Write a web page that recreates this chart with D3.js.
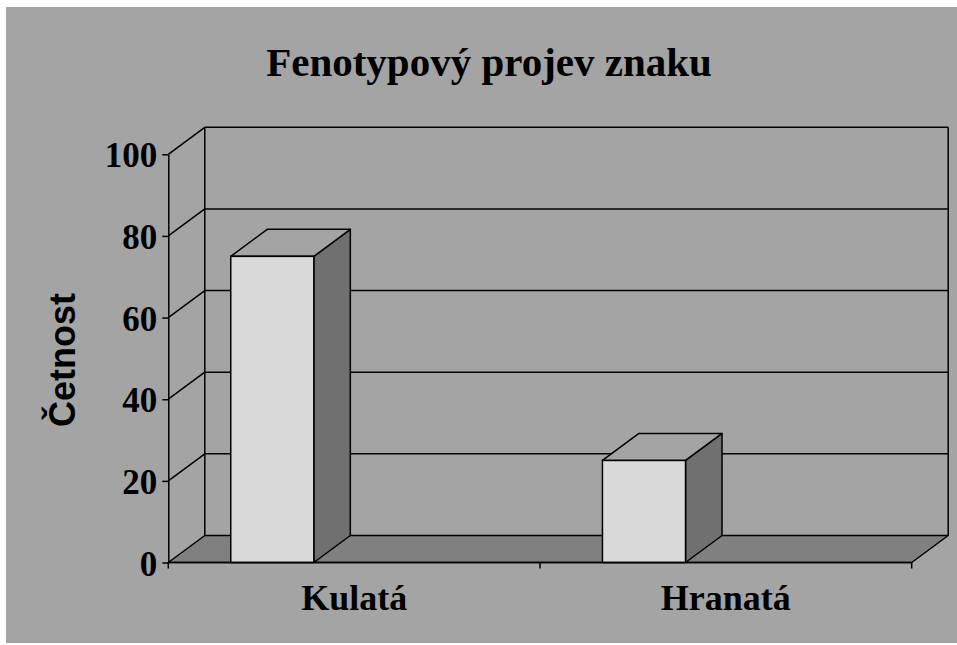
<!DOCTYPE html>
<html>
<head>
<meta charset="utf-8">
<script src="https://cdn.jsdelivr.net/npm/d3@7"></script>
<style>
  body { margin: 0; background: #ffffff; }
  svg { display: block; }
</style>
</head>
<body>
<div id="svg"></div>
<script>
var width = 957;
var height = 645;

// data
var categories = ['Kulatá', 'Hranatá'];
var values = [75, 25];
var yTicks = [0, 20, 40, 60, 80, 100];
var title = 'Fenotypový projev znaku';
var yLabel = 'Četnost';

// colours
var bg = '#a4a4a4';
var floorFill = '#808080';
var barFront = '#d9d9d9';
var barSide = '#707070';
var barTop = '#a4a4a4';

// 3d depth offset
var dx = 36.5;
var dy = -27;

var canvas = d3.select('#svg')
	.append('svg')
	.attr('width', width)
	.attr('height', height);

canvas.append('rect')
	.attr('x', 6).attr('y', 7)
	.attr('width', width - 6).attr('height', height - 9)
	.attr('fill', bg);

var x = d3.scaleBand()
	.domain(categories)
	.range([168.3, 911.7]);

var y = d3.scaleLinear()
	.domain([0, 100])
	.range([562.5, 154.3]);

var g = canvas.append('g');
var line_style = (sel) => sel.attr('stroke', '#000').attr('stroke-width', 1.5).attr('fill', 'none');

var x0 = x.range()[0], x1 = x.range()[1];

// back wall gridlines
yTicks.filter((t) => t > 0).forEach((t) => {
	g.append('line')
		.attr('x1', x0 + dx).attr('x2', x1 + dx)
		.attr('y1', y(t) + dy).attr('y2', y(t) + dy)
		.call(line_style);
	g.append('line')
		.attr('x1', x0).attr('x2', x0 + dx)
		.attr('y1', y(t)).attr('y2', y(t) + dy)
		.call(line_style);
});

// back wall edges
g.append('line')
	.attr('x1', x0 + dx).attr('x2', x0 + dx)
	.attr('y1', y(0) + dy).attr('y2', y(100) + dy)
	.call(line_style);
g.append('line')
	.attr('x1', x1 + dx).attr('x2', x1 + dx)
	.attr('y1', y(0) + dy).attr('y2', y(100) + dy)
	.call(line_style);

// floor
g.append('path')
	.attr('d', 'M' + x0 + ',' + y(0) + 'L' + x1 + ',' + y(0) + 'L' + (x1 + dx) + ',' + (y(0) + dy) +
		'L' + (x0 + dx) + ',' + (y(0) + dy) + 'Z')
	.attr('fill', floorFill)
	.attr('stroke', '#000')
	.attr('stroke-width', 1.5)
	.attr('stroke-linejoin', 'round');

// bars
var bw = x.bandwidth();
var bars = g.selectAll('.bar')
	.data(categories.map((c, i) => ({ cat: c, value: values[i] })))
	.enter().append('g')
	.attr('class', 'bar');

bars.each(function(d) {
	var bx = x(d.cat) + bw * 0.168;
	var w = bw * 0.2235;
	var top = y(d.value), base = y(0);
	var sel = d3.select(this);
	sel.append('path')
		.attr('d', 'M' + (bx + w) + ',' + base + 'L' + (bx + w + dx) + ',' + (base + dy) +
			'L' + (bx + w + dx) + ',' + (top + dy) + 'L' + (bx + w) + ',' + top + 'Z')
		.attr('fill', barSide).attr('stroke', '#000').attr('stroke-width', 1.5).attr('stroke-linejoin', 'round');
	sel.append('path')
		.attr('d', 'M' + bx + ',' + top + 'L' + (bx + dx) + ',' + (top + dy) +
			'L' + (bx + w + dx) + ',' + (top + dy) + 'L' + (bx + w) + ',' + top + 'Z')
		.attr('fill', barTop).attr('stroke', '#000').attr('stroke-width', 1.5).attr('stroke-linejoin', 'round');
	sel.append('rect')
		.attr('x', bx).attr('y', top)
		.attr('width', w).attr('height', base - top)
		.attr('fill', barFront).attr('stroke', '#000').attr('stroke-width', 1.5);
});

// y axis
var yAxis = d3.axisLeft(y)
	.tickValues(yTicks)
	.tickSizeInner(6)
	.tickSizeOuter(0)
	.tickPadding(5);

var ya = canvas.append('g')
	.attr('transform', 'translate(' + x0 + ',0)')
	.call(yAxis);
ya.select('.domain').attr('stroke', '#000').attr('stroke-width', 1.5);
ya.selectAll('.tick line').attr('stroke', '#000').attr('stroke-width', 1.5);
ya.selectAll('.tick text')
	.attr('font-family', '"Liberation Serif", "Times New Roman", serif')
	.attr('font-weight', 'bold')
	.attr('font-size', 35)
	.attr('fill', '#000')
	.attr('dy', '0.36em');

// x axis line and ticks at category boundaries
var xa = canvas.append('g');
xa.append('line')
	.attr('x1', x0).attr('x2', x1)
	.attr('y1', y(0)).attr('y2', y(0))
	.call(line_style);
var bounds = categories.map((c) => x(c)).concat([x1]);
xa.selectAll('.xtick')
	.data(bounds)
	.enter().append('line')
	.attr('x1', (d) => d).attr('x2', (d) => d)
	.attr('y1', y(0)).attr('y2', y(0) + 6)
	.call(line_style);
xa.selectAll('.xlabel')
	.data(categories)
	.enter().append('text')
	.attr('x', (d) => x(d) + bw / 2)
	.attr('y', 610)
	.attr('text-anchor', 'middle')
	.attr('font-family', '"Liberation Serif", "Times New Roman", serif')
	.attr('font-weight', 'bold')
	.attr('font-size', 36)
	.text((d) => d);

// title
canvas.append('text')
	.attr('x', 489)
	.attr('y', 76)
	.attr('text-anchor', 'middle')
	.attr('font-family', '"Liberation Serif", "Times New Roman", serif')
	.attr('font-weight', 'bold')
	.attr('font-size', 41)
	.text(title);

// y label
canvas.append('text')
	.attr('transform', 'translate(75,360) rotate(-90)')
	.attr('text-anchor', 'middle')
	.attr('font-family', '"Liberation Sans", Arial, sans-serif')
	.attr('font-weight', 'bold')
	.attr('font-size', 36)
	.text(yLabel);
</script>
</body>
</html>
